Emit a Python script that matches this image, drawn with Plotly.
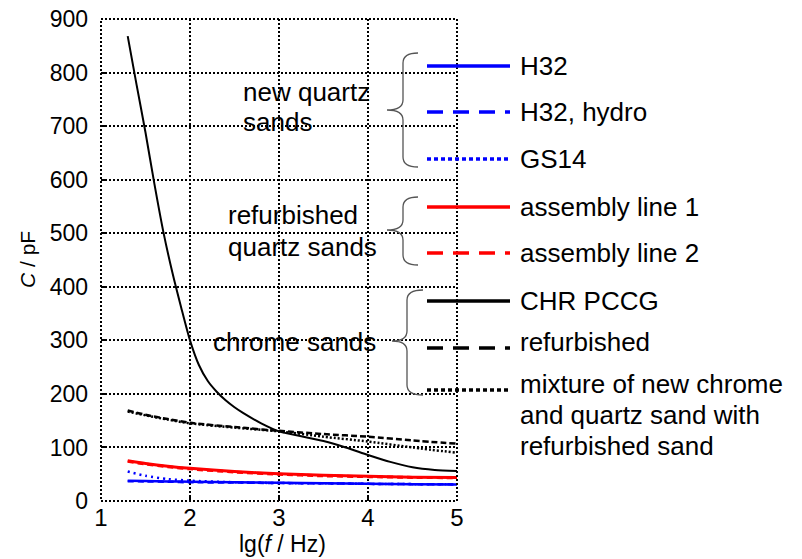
import plotly.graph_objects as go

# ---------------- data ----------------
lgf_chr = [1.3, 1.4, 1.5, 1.6, 1.7, 1.8, 1.9, 2.0, 2.1, 2.2, 2.3, 2.4, 2.5, 2.6, 2.8,
           3.0, 3.25, 3.5, 3.75, 4.0, 4.25, 4.5, 4.75, 5.0]
c_chr_pccg = [868, 777, 688, 592, 503, 428, 362, 300, 254, 224, 204, 188, 175, 164, 145,
              130, 121, 112, 100, 86, 73, 63, 58, 56]

lgf = [1.3, 1.5, 1.75, 2.0, 2.5, 3.0, 3.5, 4.0, 4.5, 5.0]
c_chr_refurb = [169, 161, 153, 146, 138, 131, 125, 120, 113, 107]
c_mixture = [167, 160, 152, 145, 137, 130, 120, 111, 100, 90]
c_assembly1 = [75, 70, 65, 61, 55, 51, 48, 46, 44.5, 44]
c_assembly2 = [74, 69, 64, 60, 54, 50, 47, 45.5, 44, 43.5]
c_h32 = [38, 37.5, 36.5, 36, 35, 34, 33, 32, 31.5, 31]
c_h32_hydro = [37, 36.5, 36, 35, 34.5, 33.5, 33, 32, 31.5, 31]
c_gs14 = [55, 47, 41, 38, 35, 33.5, 33, 32, 31.5, 31]

x_ticks = [1, 2, 3, 4, 5]
y_ticks = [0, 100, 200, 300, 400, 500, 600, 700, 800, 900]

legend_names = ["H32", "H32, hydro", "GS14", "assembly line 1", "assembly line 2",
                "CHR PCCG", "refurbished",
                "mixture of new chrome<br>and quartz sand with<br>refurbished sand"]
group_labels = [["new quartz", "sands"], ["refurbished", "quartz sands"], ["chrome sands"]]

# ---------------- layout helpers ----------------
L, R, T, B = 101, 457, 19, 501
W, H = R - L, B - T
def px(x):
    return (x - L) / W
def py(y):
    return (B - y) / H

FONT = "Liberation Sans, Arial, sans-serif"
BLUE = "#0000ff"
RED = "#ff0000"
BLACK = "#000000"
TXT = 26

series = [
    (lgf, c_h32, BLUE, "solid", 2.5),
    (lgf, c_h32_hydro, BLUE, "6px,4px", 2.5),
    (lgf, c_gs14, BLUE, "2px,4px", 2.5),
    (lgf, c_assembly1, RED, "solid", 3),
    (lgf, c_assembly2, RED, "6px,4px", 3),
    (lgf_chr, c_chr_pccg, BLACK, "solid", 2),
    (lgf, c_chr_refurb, BLACK, "6px,3px", 2.5),
    (lgf, c_mixture, BLACK, "2px,2px", 2.5),
]

fig = go.Figure()
for (xs, ys, col, dash, w), name in zip(series, legend_names):
    fig.add_trace(go.Scatter(x=xs, y=ys, mode="lines", name=name.replace("<br>", " "),
                             line=dict(color=col, dash=dash, width=w, shape="spline",
                                       smoothing=0.7),
                             showlegend=False))

shapes = []
annotations = []

# dotted frame
shapes.append(dict(type="rect", xref="paper", yref="paper", x0=0, x1=1, y0=0, y1=1,
                   line=dict(color="black", width=2, dash="2px,2px"), layer="above"))

# manual legend
leg_line_y = [66, 112, 159, 207, 253, 301, 348, 390]
leg_text_y = [66, 112, 159, 207, 253, 301, 342, None]
leg_dash = ["solid", "16px,10px", "4px,3px", "solid", "16px,10px", "solid", "16px,10px", "4px,3px"]
for i, (s, name) in enumerate(zip(series, legend_names)):
    col = s[2]
    shapes.append(dict(type="line", xref="paper", yref="paper",
                       x0=px(427), x1=px(510), y0=py(leg_line_y[i]), y1=py(leg_line_y[i]),
                       line=dict(color=col, width=3.5, dash=leg_dash[i]), layer="above"))
    if leg_text_y[i] is not None:
        annotations.append(dict(xref="paper", yref="paper", x=px(518), y=py(leg_text_y[i]),
                                text=name, showarrow=False, xanchor="left", yanchor="middle",
                                font=dict(family=FONT, size=TXT, color="black")))
    else:
        for j, part in enumerate(name.split("<br>")):
            annotations.append(dict(xref="paper", yref="paper", x=px(518),
                                    y=py([384, 415, 446][j]),
                                    text=part, showarrow=False, xanchor="left", yanchor="middle",
                                    font=dict(family=FONT, size=TXT, color="black")))

# braces
def brace(xr, xv, xt, top, tip, bot, r=10):
    pts = [
        f"M {px(xr)},{py(top)}",
        f"Q {px(xv)},{py(top)} {px(xv)},{py(top + r)}",
        f"L {px(xv)},{py(tip - r)}",
        f"Q {px(xv)},{py(tip)} {px(xt)},{py(tip)}",
        f"Q {px(xv)},{py(tip)} {px(xv)},{py(tip + r)}",
        f"L {px(xv)},{py(bot - r)}",
        f"Q {px(xv)},{py(bot)} {px(xr)},{py(bot)}",
    ]
    return dict(type="path", xref="paper", yref="paper", path=" ".join(pts),
                line=dict(color="#555555", width=1.3), layer="above")

shapes.append(brace(418, 403, 387, 53, 110, 167))
shapes.append(brace(418, 403, 387, 197, 230, 265))
shapes.append(brace(423, 407, 392, 290, 341, 395))

# group labels
grp_pos = [[(241, 92), (241, 122)], [(226, 215), (226, 247)], [(211, 342)]]
for labels, poss in zip(group_labels, grp_pos):
    for text, (gx, gy) in zip(labels, poss):
        annotations.append(dict(xref="paper", yref="paper", x=px(gx), y=py(gy), text=text,
                                showarrow=False, xanchor="left", yanchor="middle",
                                font=dict(family=FONT, size=TXT, color="black")))

# axis titles
annotations.append(dict(xref="paper", yref="paper", x=px(282), y=py(544),
                        text="lg(<i>f</i> / Hz)", showarrow=False, xanchor="center",
                        yanchor="middle", font=dict(family=FONT, size=23, color="black")))
annotations.append(dict(xref="paper", yref="paper", x=px(27), y=py(260),
                        text="<i>C</i> / pF", showarrow=False, xanchor="center",
                        yanchor="middle", textangle=-90,
                        font=dict(family=FONT, size=21, color="black")))

fig.update_layout(
    width=802, height=559,
    margin=dict(l=L, r=802 - R, t=T, b=559 - B, autoexpand=False),
    paper_bgcolor="white", plot_bgcolor="white",
    font=dict(family=FONT, size=22, color="black"),
    shapes=shapes, annotations=annotations,
    xaxis=dict(range=[1, 5], tickvals=x_ticks, ticktext=[str(v) for v in x_ticks],
               showgrid=True, gridcolor="black", griddash="2px,2px", gridwidth=2,
               zeroline=False, showline=False, ticks="inside", ticklen=4,
               tickcolor="black", tickwidth=1.5, ticklabelstandoff=0,
               tickfont=dict(family=FONT, size=24, color="black")),
    yaxis=dict(range=[0, 900], tickvals=y_ticks, ticktext=[str(v) for v in y_ticks],
               showgrid=True, gridcolor="black", griddash="2px,2px", gridwidth=2,
               zeroline=False, showline=False, ticks="inside", ticklen=4,
               tickcolor="black", tickwidth=1.5, ticklabelstandoff=12,
               tickfont=dict(family=FONT, size=23, color="black")),
)

fig.write_html("out.html")
